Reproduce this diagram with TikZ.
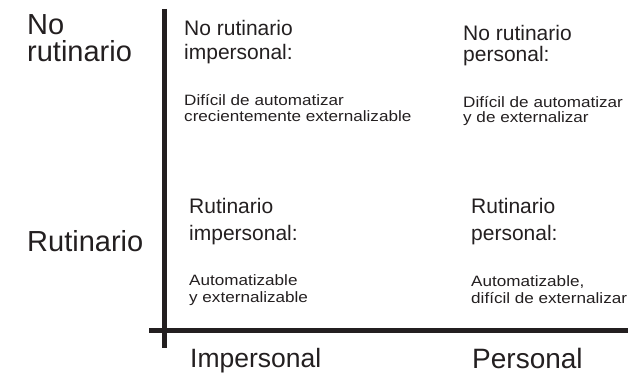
\documentclass[tikz,border=0pt]{standalone}
\usepackage{fontspec}
\setmainfont{Liberation Sans}
\newfontfamily\widefont{Liberation Sans}[FakeStretch=1.14]
\definecolor{ink}{HTML}{231F20}
\begin{document}
\begin{tikzpicture}[x=1pt,y=-1pt,
  axisline/.style={line width=5pt,draw=ink},
  lbl/.style={anchor=base west,inner sep=0pt,align=left,text=ink},
  biglbl/.style={lbl,font=\fontsize{29}{27}\selectfont},
  headlbl/.style={lbl,font=\fontsize{21}{24}\selectfont},
  desclbl/.style={lbl,font=\widefont\fontsize{15}{16.5}\selectfont}]
\useasboundingbox (0,0) rectangle (628,374);
\coordinate (vtop) at (164,9);
\coordinate (vbot) at (164,348);
\coordinate (hleft) at (149,330.5);
\coordinate (hright) at (628,330.5);
\draw[axisline] (vtop) -- (vbot);
\draw[axisline] (hleft) -- (hright);
% base anchor = baseline of the last line
\node[biglbl] (norut) at (27,62) {No\\rutinario};
\node[biglbl] (rut) at (27,251) {Rutinario};
\node[lbl,font=\fontsize{26.5}{27}\selectfont] (imp) at (190,367) {Impersonal};
\node[lbl,font=\fontsize{28}{27}\selectfont] (pers) at (472,368) {Personal};
\node[headlbl] (q1h) at (184,60) {No rutinario\\impersonal:};
\node[desclbl] (q1d) at (184,122) {Difícil de automatizar\\crecientemente externalizable};
\node[headlbl,font=\fontsize{21}{21}\selectfont] (q2h) at (463,62) {No rutinario\\personal:};
\node[desclbl,font=\widefont\fontsize{15}{15.5}\selectfont] (q2d) at (463,123) {Difícil de automatizar\\y de externalizar};
\node[headlbl,font=\fontsize{21}{27}\selectfont] (q3h) at (189,240) {Rutinario\\impersonal:};
\node[desclbl] (q3d) at (189,302) {Automatizable\\y externalizable};
\node[headlbl,font=\fontsize{21}{27}\selectfont] (q4h) at (471,240) {Rutinario\\personal:};
\node[desclbl,font=\widefont\fontsize{15}{17}\selectfont] (q4d) at (471,303) {Automatizable,\\difícil de externalizar};
\end{tikzpicture}
\end{document}
